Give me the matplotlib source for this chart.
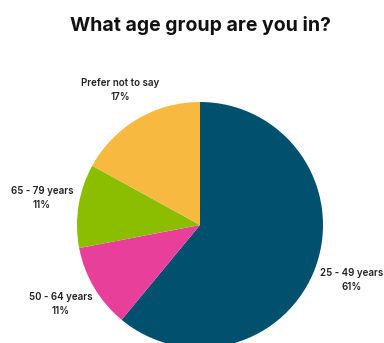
import matplotlib.pyplot as plt

# Répartition par tranche d'âge
groups = ['25 - 49 years', '50 - 64 years', '65 - 79 years', 'Prefer not to say']
shares = [61, 11, 11, 17]
colors = ['#00506e', '#e8409a', '#8cbe00', '#f8b940']
label_pos = [(1.23, -0.45), (-1.13, -0.64), (-1.285, 0.22), (-0.65, 1.10)]

fig = plt.figure(figsize=(3.84, 3.43), dpi=100)
fig.text(0.521, 0.925, 'What age group are you in?', ha='center', va='center',
         fontsize=14, fontweight='bold', family='Inter', color='#111111')

# le camembert déborde en bas de l'image
ax = fig.add_axes([77 / 384, -5 / 343, 246 / 384, 246 / 343])
ax.pie(shares, colors=colors, startangle=90, counterclock=False, radius=1,
       wedgeprops=dict(linewidth=0))
ax.set_xlim(-1, 1)
ax.set_ylim(-1, 1)
ax.set_aspect('auto')
ax.axis('off')

for g, s, (x, y) in zip(groups, shares, label_pos):
    ax.text(x, y, f'{g}\n{s}%', ha='center', va='center', fontsize=7,
            fontweight='semibold', family='Inter', color='#222222',
            linespacing=1.5, clip_on=False)

plt.savefig('out.png', dpi=100)
